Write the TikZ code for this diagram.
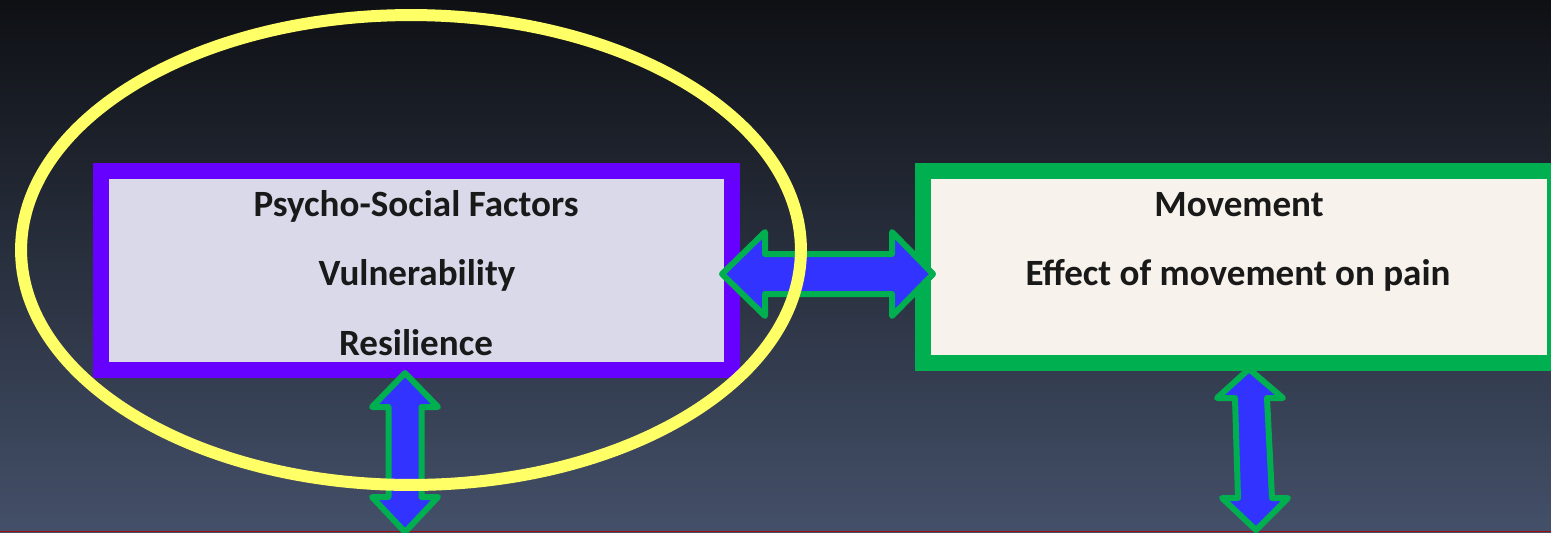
\documentclass[tikz,border=0pt]{standalone}
\usepackage{fontspec}
\setmainfont{Carlito}
\usetikzlibrary{calc}
\definecolor{bgtop}{HTML}{0E1014}
\definecolor{bgbot}{HTML}{445069}
\definecolor{psyviolet}{HTML}{6600FF}
\definecolor{psyfill}{HTML}{DAD9EA}
\definecolor{movegreen}{HTML}{00B050}
\definecolor{movefill}{HTML}{F7F2EC}
\definecolor{arrowblue}{HTML}{3333FF}
\definecolor{ringyellow}{HTML}{FFFF66}
\definecolor{edgered}{HTML}{A01010}

\tikzset{
	boxframe/.style={line width=0.32cm},
	lbl/.style={font=\fontsize{21.1}{25}\selectfont\bfseries, text=black!90, anchor=base, inner sep=0pt},
	blockarrow/.style={fill=arrowblue, draw=movegreen, line width=0.12cm, line join=round}
}

\begin{document}
\begin{tikzpicture}[x=0.02cm,y=-0.02cm]
				% background
				\fill[top color=bgtop, bottom color=bgbot] (0,0) rectangle (1551,532);
				\useasboundingbox (0,0) rectangle (1551,532);
				\draw[edgered, line width=0.03cm] (0,531.4) -- (1551,531.4);
				
				% boxes
				\draw[boxframe, draw=psyviolet, fill=psyfill] (101,171) rectangle (732,370);
				\draw[boxframe, draw=movegreen, fill=movefill] (923,171) rectangle (1555,363);
				
				\node[lbl] (psytitle) at (416,216) {Psycho-Social Factors};
				\node[lbl] (vuln) at (417,285) {Vulnerability};
				\node[lbl] (resil) at (416,355) {Resilience};
				\node[lbl] (movetitle) at (1239,216) {Movement};
				\node[lbl] (moveeffect) at (1238,285) {Effect of movement on pain};
				
				% arrows
				\coordinate (hL) at (722,274);
				\coordinate (hR) at (933,274);
				\draw[blockarrow] (hL) -- ++(43,-42) -- ++(0,22) -- ($(hR)+(-41,-20)$) -- ++(0,-22)
				-- (hR) -- ++(-41,42) -- ++(0,-22) -- ($(hL)+(43,20)$) -- ++(0,22) -- cycle;
				
				\coordinate (vT) at (405,373);
				\coordinate (vB) at (405,532);
				\draw[blockarrow] (vT) -- ++(33,34) -- ++(-16.5,0) -- ($(vB)+(16.5,-35)$) -- ++(16.5,0)
				-- (vB) -- ++(-33,-35) -- ++(16.5,0) -- ($(vT)+(-16.5,34)$) -- ++(-16.5,0) -- cycle;
				
				\coordinate (wT) at (1249,369);
				\coordinate (wB) at (1256,530);
				\draw[blockarrow] (wT) -- (1283,398) -- (1267,398) -- (1272,498) -- (1288,498)
				-- (wB) -- (1222,498) -- (1238,498) -- (1235,398) -- (1217,398) -- cycle;
				
				% ring
				\draw[ringyellow, line width=0.24cm] (411,250) ellipse [x radius=7.8cm, y radius=4.7cm];
\end{tikzpicture}
\end{document}
